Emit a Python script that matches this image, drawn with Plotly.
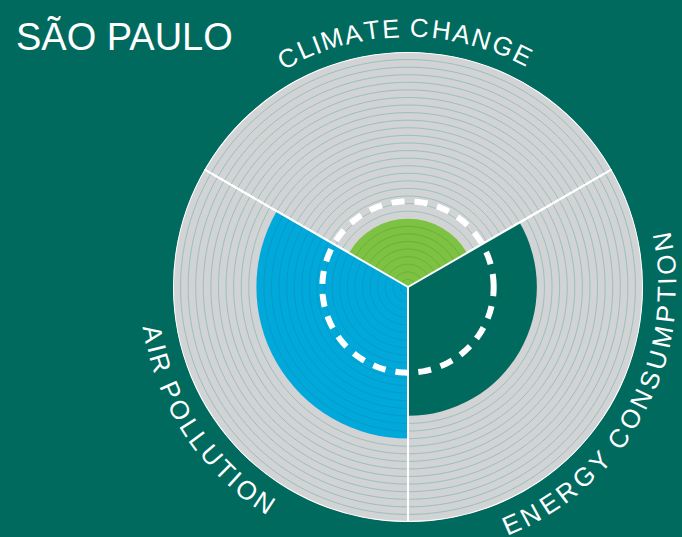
import math
import plotly.graph_objects as go

# ---- data ----
categories = ["CLIMATE CHANGE", "ENERGY CONSUMPTION", "AIR POLLUTION"]
sector_centers = [90, 330, 210]          # degrees, counter-clockwise from east
values = [9, 17, 20]                     # city score per category
full_scale = 31                          # grey background bar
benchmark = 11.3                         # dashed reference circle
city = "SÃO PAULO"

bar_colors = ["#7dc242", "#006a5e", "#00a9da"]
ring_inside_colors = ["#68ad38", None, "#0b96c4"]
ring_gray = "#93bdba"
bg = "#006a5e"

W, H = 682, 537
cx, cy, R = 408, 287, 235

fig = go.Figure()

# grey full bars
fig.add_trace(go.Barpolar(r=[full_scale] * 3, theta=sector_centers, width=[120] * 3,
                          marker=dict(color="#d1d3d4", line=dict(color="white", width=2)),
                          hoverinfo="skip", showlegend=False))
# coloured value bars
for c, v, col in zip(sector_centers, values, bar_colors):
    fig.add_trace(go.Barpolar(r=[v], theta=[c], width=[120],
                              marker=dict(color=col, line=dict(width=0)),
                              hoverinfo="skip", showlegend=False))

# concentric ring lines
groups = {}
for c, v, inner in zip(sector_centers, values, ring_inside_colors):
    for k in range(1, full_scale):
        col = inner if k < v else ring_gray
        if col is None or k == v:
            continue
        th = [c - 60 + i for i in range(121)]
        rs, ts = groups.setdefault(col, ([], []))
        rs.extend([k] * len(th) + [None])
        ts.extend(th + [None])
for col, (rs, ts) in groups.items():
    fig.add_trace(go.Scatterpolar(r=rs, theta=ts, mode="lines",
                                  line=dict(color=col, width=0.9),
                                  hoverinfo="skip", showlegend=False))

# separators
for a in [30, 150, 270]:
    fig.add_trace(go.Scatterpolar(r=[0, full_scale], theta=[a, a], mode="lines",
                                  line=dict(color="white", width=2),
                                  hoverinfo="skip", showlegend=False))

# dashed benchmark circle
fig.add_trace(go.Scatterpolar(r=[benchmark] * 361, theta=list(range(361)), mode="lines",
                              line=dict(color="white", width=6, dash="13px,10px"),
                              hoverinfo="skip", showlegend=False))

fig.update_layout(
    width=W, height=H, margin=dict(l=0, r=0, t=0, b=0),
    paper_bgcolor=bg, plot_bgcolor=bg,
    polar=dict(
        domain=dict(x=[(cx - R) / W, (cx + R) / W], y=[1 - (cy + R) / H, 1 - (cy - R) / H]),
        bgcolor="rgba(0,0,0,0)",
        barmode="overlay",
        radialaxis=dict(visible=False, range=[0, full_scale]),
        angularaxis=dict(visible=False, direction="counterclockwise", rotation=0),
    ),
)

# ---- curved labels ----
adv = {"A": .667, "B": .667, "C": .722, "D": .722, "E": .667, "F": .611, "G": .778, "H": .722,
       "I": .278, "J": .5, "K": .667, "L": .556, "M": .833, "N": .722, "O": .778, "P": .667,
       "Q": .778, "R": .722, "S": .667, "T": .611, "U": .722, "V": .667, "W": .944, "X": .667,
       "Y": .667, "Z": .611, " ": .278}
# (text, angle of first char centre, angle of last char centre, top points outward?)
label_paths = [(categories[0], 117.7, 63.8, True),
               (categories[1], 293.6, 370.0, False),
               (categories[2], 190.6, 236.4, False)]
rad = 259
for text, a0, a1, outward in label_paths:
    w = [adv.get(ch, .6) for ch in text]
    cum, pos = 0, []
    for wi in w:
        pos.append(cum + wi / 2)
        cum += wi
    span = pos[-1] - pos[0]
    for ch, p in zip(text, pos):
        if ch == " ":
            continue
        a = a0 + (p - pos[0]) / span * (a1 - a0)
        x = cx + rad * math.cos(math.radians(a))
        y = cy - rad * math.sin(math.radians(a))
        ang = (90 - a) if outward else (270 - a)
        ang = (ang + 180) % 360 - 180
        fig.add_annotation(x=x / W, y=1 - y / H, xref="paper", yref="paper", text=ch,
                           showarrow=False, textangle=ang, xanchor="center", yanchor="middle",
                           font=dict(family="Liberation Sans, Arial", size=26, color="white"))

fig.add_annotation(x=14 / W, y=1 - 37 / H, xref="paper", yref="paper", text=city,
                   showarrow=False, xanchor="left", yanchor="middle",
                   font=dict(family="Liberation Sans, Arial", size=38, color="white"))

fig.write_html("out.html", config={"displayModeBar": False},
               post_script="document.body.style.margin='0';document.body.style.overflow='hidden';")
